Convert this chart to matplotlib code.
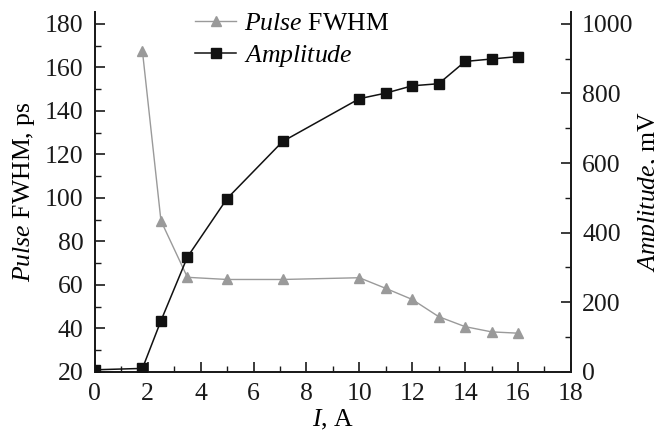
import matplotlib
matplotlib.use("Agg")
import matplotlib.pyplot as plt
from matplotlib.ticker import MultipleLocator

plt.rcParams['font.family'] = ['Liberation Serif', 'DejaVu Serif']
plt.rcParams['mathtext.fontset'] = 'custom'
plt.rcParams['mathtext.rm'] = 'Liberation Serif'
plt.rcParams['mathtext.it'] = 'Liberation Serif:italic'

# Data
fwhm_current = [1.8, 2.5, 3.5, 5.0, 7.1, 10, 11, 12, 13, 14, 15, 16]
fwhm_ps = [167.5, 89.5, 63.5, 62.5, 62.5, 63.3, 58.4, 53.3, 45.4, 40.8, 38.4, 37.8]
amp_current = [0, 1.8, 2.5, 3.5, 5.0, 7.1, 10, 11, 12, 13, 14, 15, 16]
amp_mv = [6, 10, 147, 330, 498, 662, 785, 801, 822, 828, 892, 899, 906]

FS = 18.5

fig = plt.figure(figsize=(6.54, 4.37), dpi=100)
ax = fig.add_axes([0.145, 0.149, 0.728, 0.8235])
ax2 = ax.twinx()

gray = '#9a9a9a'
l1, = ax.plot(fwhm_current, fwhm_ps, '-', color=gray, lw=1.0, marker='^',
              markersize=7.5, markerfacecolor=gray, markeredgecolor=gray,
              label=r'$\it{Pulse}$ FWHM', zorder=3)
l2, = ax2.plot(amp_current, amp_mv, '-', color='#111111', lw=1.1, marker='s',
               markersize=7, markerfacecolor='#111111', markeredgecolor='#111111',
               label=r'$\it{Amplitude}$', zorder=3)

ax.set_xlim(0, 18)
ax.set_ylim(20, 185.5)
ax2.set_ylim(0, 1034)

ax.xaxis.set_major_locator(MultipleLocator(2))
ax.xaxis.set_minor_locator(MultipleLocator(1))
ax.yaxis.set_minor_locator(MultipleLocator(10))
ax2.yaxis.set_minor_locator(MultipleLocator(100))
ax.set_yticks(range(20, 181, 20))
ax2.set_yticks(range(0, 1001, 200))

for a in (ax, ax2):
    a.spines['top'].set_visible(False)
    for s in a.spines.values():
        s.set_linewidth(1.3)
        s.set_color('#1a1a1a')
    a.tick_params(which='major', direction='in', length=7, width=1.2, labelsize=FS, colors='#1a1a1a')
    a.tick_params(which='minor', direction='in', length=4, width=1.0, colors='#1a1a1a')
ax.tick_params(axis='x', pad=8)
ax.tick_params(axis='y', pad=8)
ax2.tick_params(axis='y', pad=8)

ax.set_xlabel(r'$\it{I}$, A', fontsize=FS, labelpad=2)
ax.set_ylabel(r'$\it{Pulse}$ FWHM, ps', fontsize=FS, labelpad=6)
ax2.set_ylabel(r'$\it{Amplitude}$, mV', fontsize=FS, labelpad=2)

leg = fig.legend(handles=[l1, l2], loc='upper left', bbox_to_anchor=(0.283, 0.995),
                 frameon=False, fontsize=FS, handlelength=1.6, handletextpad=0.3,
                 labelspacing=0.3, borderaxespad=0)

fig.savefig('out.png', dpi=100)
